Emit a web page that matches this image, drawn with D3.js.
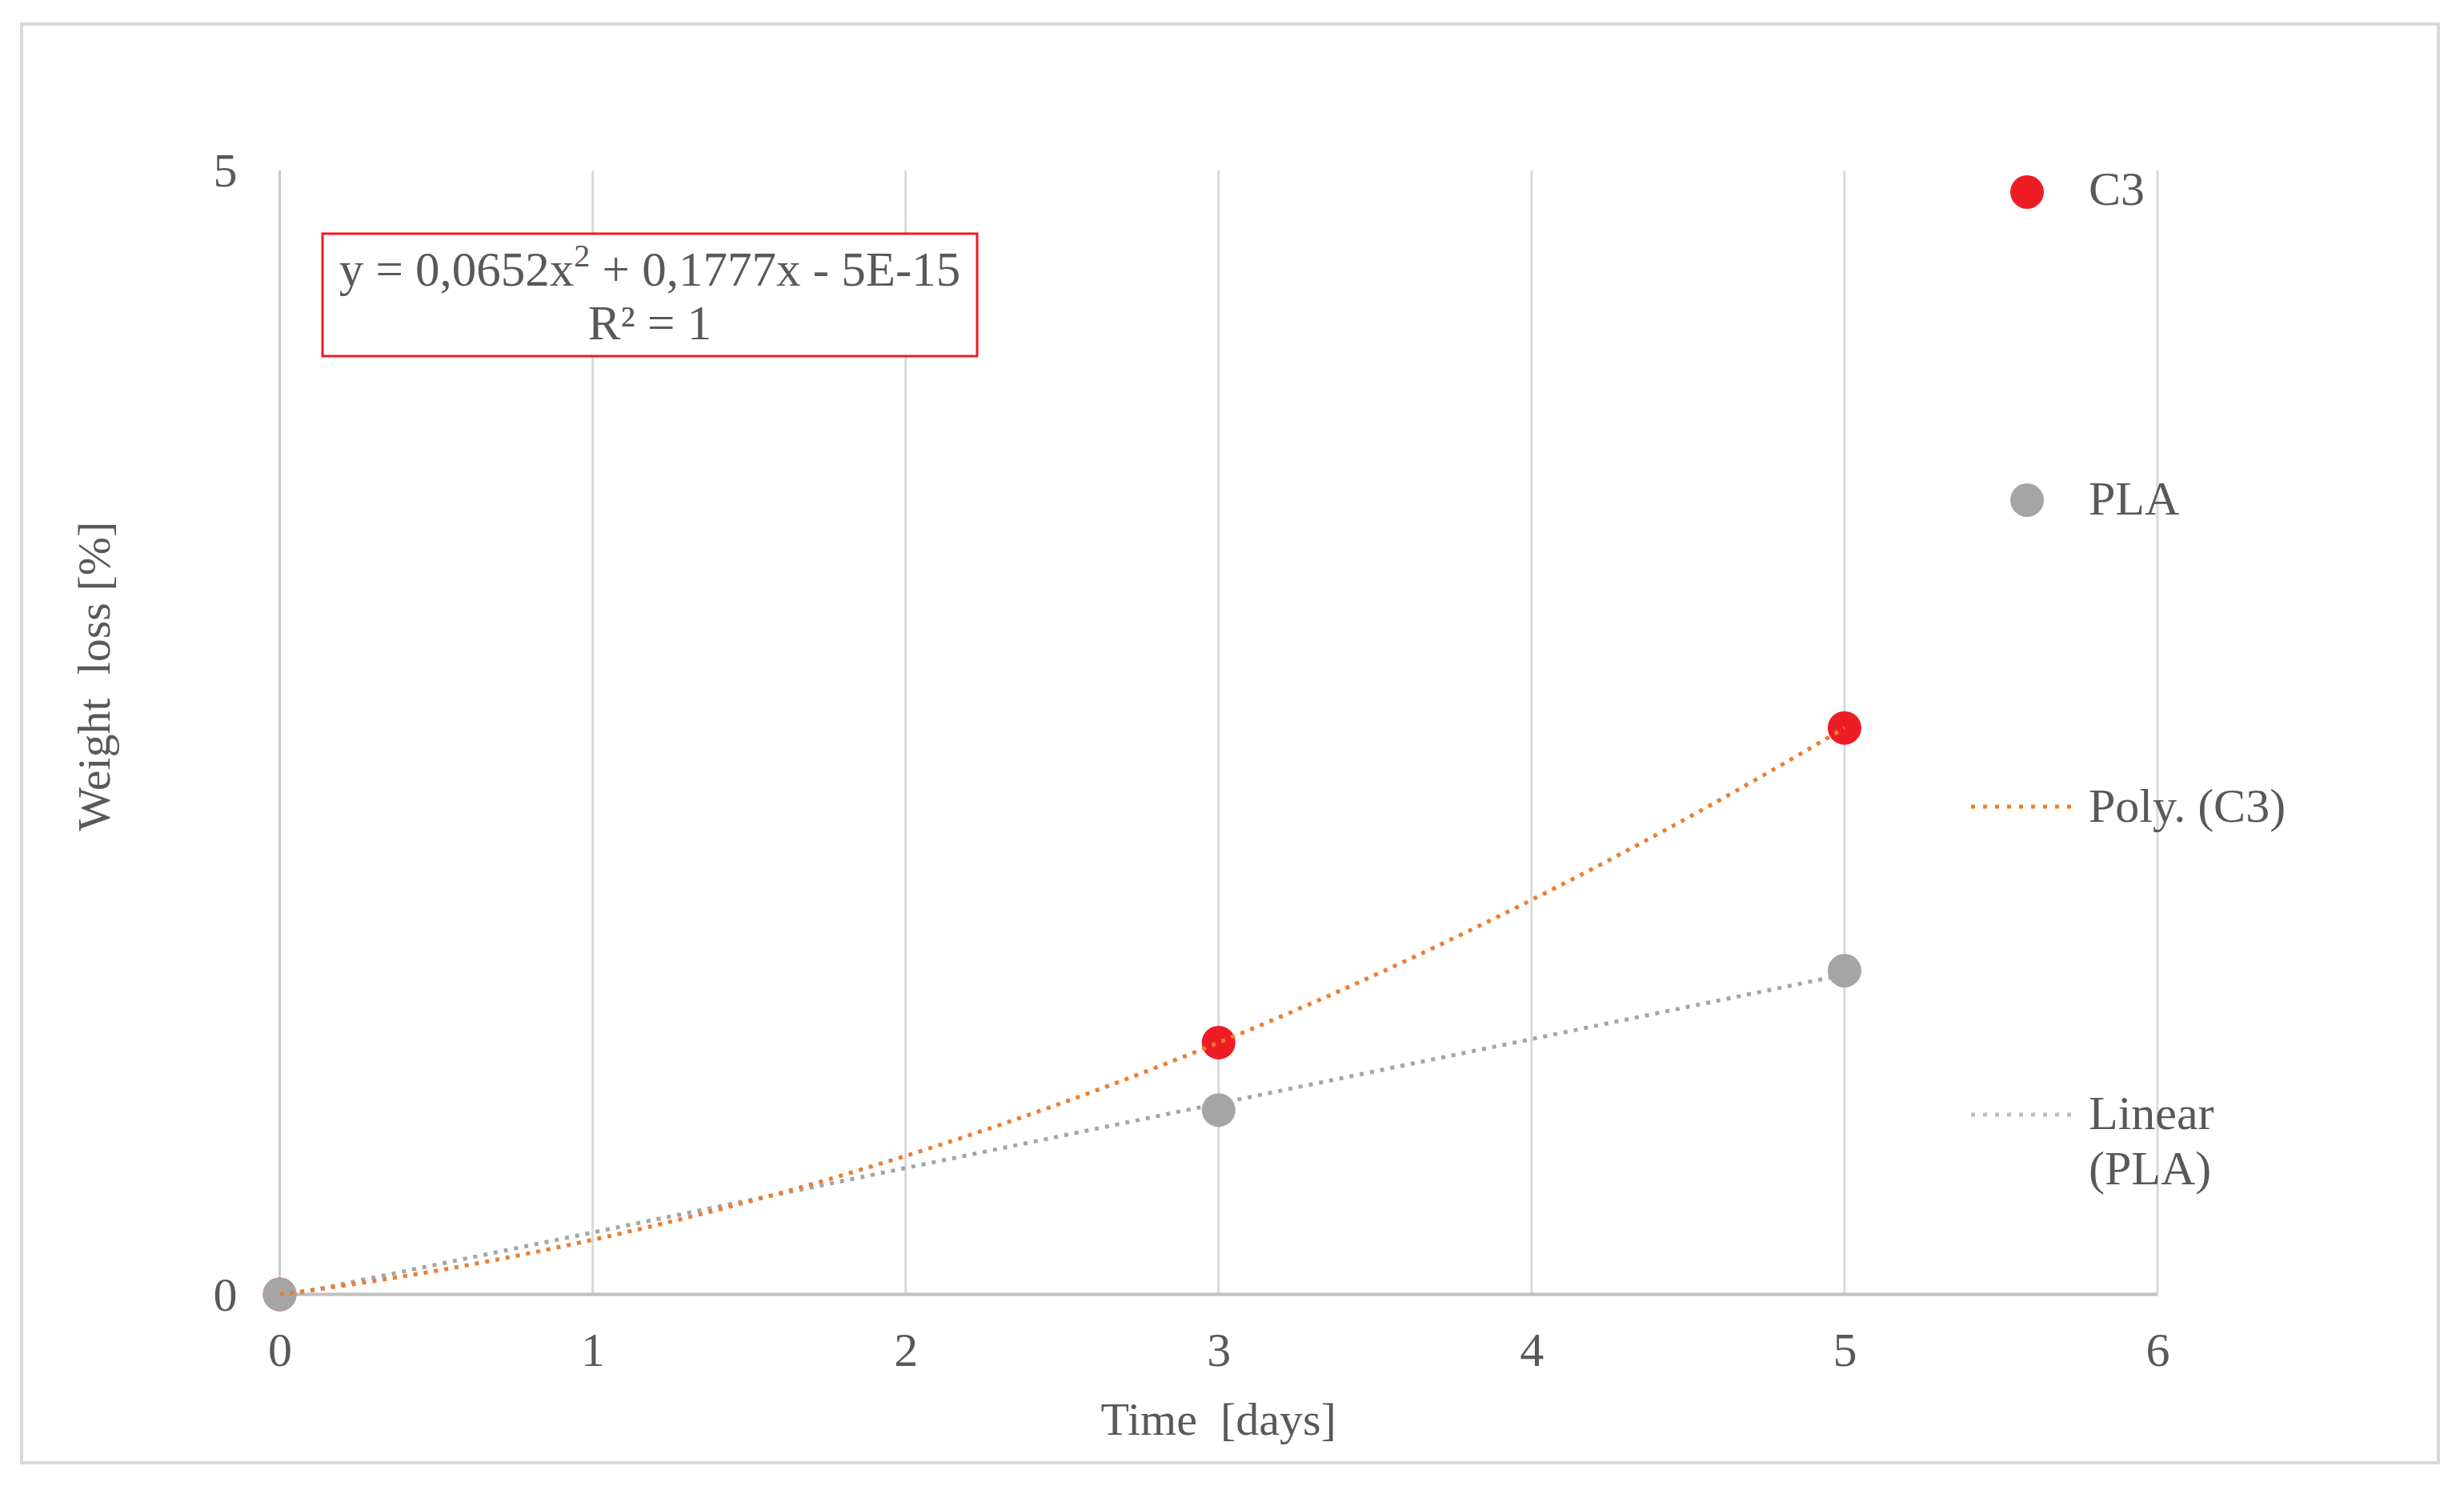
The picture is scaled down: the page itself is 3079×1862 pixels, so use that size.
<!DOCTYPE html>
<html>
<head>
<meta charset="utf-8">
<script src="https://cdn.jsdelivr.net/npm/d3@7"></script>
<style>
  html, body { margin: 0; padding: 0; background: #fff; }
  svg { display: block; }
  text { font-family: "Liberation Serif", "Times New Roman", serif; fill: #595959; white-space: pre; }
</style>
</head>
<body>
<script>
// ---- data ----
const xTickValues = [0, 1, 2, 3, 4, 5, 6];
const yTickValues = [0, 5];
const days = [0, 3, 5];
const c3Values = [0, 1.12, 2.52];
const plaValues = [0, 0.82, 1.44];
const seriesNames = ["C3", "PLA"];
const trendNames = ["Poly. (C3)", ["Linear", "(PLA)"]];
const equationLines = ["y = 0,0652x", "2", " + 0,1777x - 5E-15", "R² = 1"];
const xTitle = "Time  [days]";
const yTitle = "Weight  loss [%]";

const W = 3079, H = 1862;
const svg = d3.select("body").append("svg").attr("width", W).attr("height", H);

// outer border
svg.append("rect").attr("x", 27).attr("y", 30).attr("width", 3020).attr("height", 1798)
  .attr("fill", "#fff").attr("stroke", "#d9d9d9").attr("stroke-width", 4);

const x = d3.scaleLinear().domain([0, 6]).range([349.5, 2696]);
const y = d3.scaleLinear().domain([0, 5]).range([1617.5, 213]);

// vertical gridlines
svg.append("g").selectAll("line").data(xTickValues).join("line")
  .attr("x1", d => x(d)).attr("x2", d => x(d))
  .attr("y1", y(5)).attr("y2", y(0))
  .attr("stroke", d => d === 0 ? "#c8c8c8" : "#d9d9d9").attr("stroke-width", 3);

// x axis line
svg.append("line").attr("x1", x(0)).attr("x2", x(6)).attr("y1", y(0)).attr("y2", y(0))
  .attr("stroke", "#bfbfbf").attr("stroke-width", 4);

// x axis tick labels via d3 axis
const xAxis = d3.axisBottom(x).tickValues(xTickValues).tickSize(0).tickPadding(0).tickFormat(d3.format("d"));
const gx = svg.append("g").attr("transform", `translate(0,${y(0)})`).call(xAxis);
gx.select(".domain").remove();
gx.selectAll("text").attr("y", 89).attr("dy", null).attr("font-size", 60)
  .attr("font-family", "Liberation Serif, Times New Roman, serif").attr("fill", "#595959");

// y axis tick labels
const yAxis = d3.axisLeft(y).tickValues(yTickValues).tickSize(0).tickPadding(0).tickFormat(d3.format("d"));
const gy = svg.append("g").attr("transform", `translate(${x(0)},0)`).call(yAxis);
gy.select(".domain").remove();
gy.selectAll("text").attr("x", -53).attr("dy", "0.33em").attr("font-size", 60)
  .attr("font-family", "Liberation Serif, Times New Roman, serif").attr("fill", "#595959");

// axis titles
svg.append("text").attr("x", (x(0) + x(6)) / 2).attr("y", 1793).attr("text-anchor", "middle")
  .attr("font-size", 58).text(xTitle);
svg.append("text").attr("transform", `translate(137,845) rotate(-90)`).attr("text-anchor", "middle")
  .attr("font-size", 58).text(yTitle);

// markers
const c3Pts = days.map((d, i) => [d, c3Values[i]]);
const plaPts = days.map((d, i) => [d, plaValues[i]]);
svg.append("g").selectAll("circle").data(c3Pts).join("circle")
  .attr("cx", d => x(d[0])).attr("cy", d => y(d[1])).attr("r", 21).attr("fill", "#ee1c25");
svg.append("g").selectAll("circle").data(plaPts).join("circle")
  .attr("cx", d => x(d[0])).attr("cy", d => y(d[1])).attr("r", 21).attr("fill", "#a5a5a5");

// trendlines computed from the data
function polyFit2(xs, ys) {
  // least squares quadratic: solve normal equations
  const n = xs.length;
  const s = k => d3.sum(xs, v => Math.pow(v, k));
  const t = k => d3.sum(xs.map((v, i) => Math.pow(v, k) * ys[i]));
  const A = [[n, s(1), s(2)], [s(1), s(2), s(3)], [s(2), s(3), s(4)]];
  const b = [t(0), t(1), t(2)];
  // gaussian elimination
  for (let i = 0; i < 3; i++) {
    for (let j = i + 1; j < 3; j++) {
      const f = A[j][i] / A[i][i];
      for (let k = i; k < 3; k++) A[j][k] -= f * A[i][k];
      b[j] -= f * b[i];
    }
  }
  const c = [0, 0, 0];
  for (let i = 2; i >= 0; i--) {
    let sum = b[i];
    for (let k = i + 1; k < 3; k++) sum -= A[i][k] * c[k];
    c[i] = sum / A[i][i];
  }
  return v => c[0] + c[1] * v + c[2] * v * v;
}
function linFit(xs, ys) {
  const mx = d3.mean(xs), my = d3.mean(ys);
  const sxy = d3.sum(xs.map((v, i) => (v - mx) * (ys[i] - my)));
  const sxx = d3.sum(xs.map(v => (v - mx) * (v - mx)));
  const m = sxy / sxx, b0 = my - m * mx;
  return v => b0 + m * v;
}
const polyF = polyFit2(days, c3Values);
const linF = linFit(days, plaValues);
const xs = d3.range(0, 5.0001, 0.05);
const line = d3.line().x(d => x(d[0])).y(d => y(d[1]));

svg.append("path").attr("d", line(xs.map(v => [v, linF(v)])))
  .attr("fill", "none").attr("stroke", "#a5a5a5").attr("stroke-width", 5).attr("stroke-dasharray", "5,8");
svg.append("path").attr("d", line(xs.map(v => [v, polyF(v)])))
  .attr("fill", "none").attr("stroke", "#ed7d31").attr("stroke-width", 5).attr("stroke-dasharray", "5,8");

// equation box
svg.append("rect").attr("x", 403).attr("y", 292).attr("width", 818).attr("height", 153)
  .attr("fill", "#fff").attr("stroke", "#ee1c25").attr("stroke-width", 3);
const eq = svg.append("text").attr("x", 812).attr("y", 357).attr("text-anchor", "middle").attr("font-size", 61);
eq.append("tspan").text(equationLines[0]);
eq.append("tspan").attr("dy", -24).attr("font-size", 40).text(equationLines[1]);
eq.append("tspan").attr("dy", 24).text(equationLines[2]);
svg.append("text").attr("x", 812).attr("y", 424).attr("text-anchor", "middle").attr("font-size", 61).text(equationLines[3]);

// legend
const lg = svg.append("g");
lg.append("circle").attr("cx", 2533).attr("cy", 240).attr("r", 21).attr("fill", "#ee1c25");
lg.append("text").attr("x", 2610).attr("y", 256).attr("font-size", 60).text(seriesNames[0]);
lg.append("circle").attr("cx", 2533).attr("cy", 625).attr("r", 21).attr("fill", "#a5a5a5");
lg.append("text").attr("x", 2610).attr("y", 643).attr("font-size", 60).text(seriesNames[1]);
lg.append("line").attr("x1", 2463).attr("x2", 2597).attr("y1", 1008).attr("y2", 1008)
  .attr("stroke", "#ed7d31").attr("stroke-width", 5).attr("stroke-dasharray", "5,10");
lg.append("text").attr("x", 2610).attr("y", 1027).attr("font-size", 60).text(trendNames[0]);
lg.append("line").attr("x1", 2463).attr("x2", 2597).attr("y1", 1393).attr("y2", 1393)
  .attr("stroke", "#bfbfbf").attr("stroke-width", 5).attr("stroke-dasharray", "5,10");
lg.append("text").attr("x", 2610).attr("y", 1411).attr("font-size", 60).text(trendNames[1][0]);
lg.append("text").attr("x", 2610).attr("y", 1480).attr("font-size", 60).text(trendNames[1][1]);
</script>
</body>
</html>
